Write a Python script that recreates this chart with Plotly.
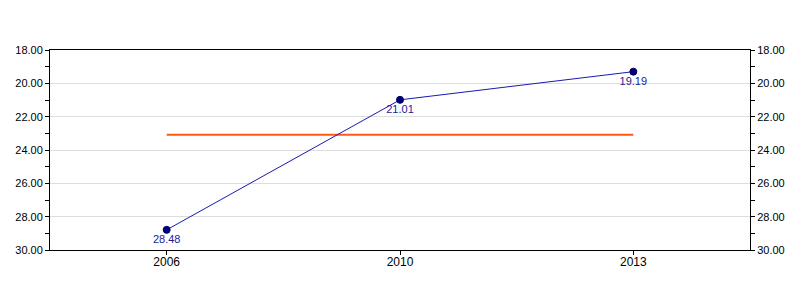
import plotly.graph_objects as go

years = ["2006", "2010", "2013"]
values = [28.79, 20.99, 19.30]
value_labels = ["28.48", "21.01", "19.19"]
reference_value = 23.08
y_range = [30, 18]
y_ticks = [18, 20, 22, 24, 26, 28, 30]
y_tick_text = ["18.00", "20.00", "22.00", "24.00", "26.00", "28.00", "30.00"]

font = "Liberation Sans, Arial, sans-serif"

fig = go.Figure()
fig.add_trace(go.Scatter(
    x=years, y=[reference_value] * len(years), mode="lines",
    line=dict(color="#FF5A14", width=2), hoverinfo="skip", showlegend=False,
))
fig.add_trace(go.Scatter(
    x=years, y=values, mode="lines+markers+text",
    line=dict(color="#1A1AB0", width=1),
    marker=dict(color="#000080", size=7, line=dict(color="#000060", width=1)),
    text=value_labels, textposition="bottom center",
    textfont=dict(color="#1A1A99", size=11, family=font),
    showlegend=False,
))
# invisible trace for right axis
fig.add_trace(go.Scatter(x=years, y=values, yaxis="y2", mode="markers",
                         marker=dict(opacity=0), hoverinfo="skip", showlegend=False))

axis_common = dict(
    range=y_range, tickvals=y_ticks, ticktext=y_tick_text,
    ticks="outside", ticklen=4, tickcolor="black", tickwidth=1,
    showline=True, linecolor="black", linewidth=1,
    tickfont=dict(size=11, color="black", family=font),
    minor=dict(dtick=1, tick0=18, ticks="outside", ticklen=4, tickcolor="black", showgrid=False),
    zeroline=False,
)

fig.update_layout(
    width=800, height=300,
    margin=dict(l=50, r=50, t=50, b=50),
    paper_bgcolor="white", plot_bgcolor="white",
    font=dict(family=font),
    xaxis=dict(
        type="category", range=[-0.5, 2.5],
        ticks="outside", ticklen=4, tickcolor="black",
        showline=True, linecolor="black", linewidth=1, mirror=True,
        showgrid=False, tickfont=dict(size=12, color="black", family=font),
        ticklabelstandoff=-3,
    ),
    yaxis=dict(**axis_common, side="left", showgrid=True, gridcolor="#DDDDDD", gridwidth=1),
    yaxis2=dict(**axis_common, side="right", overlaying="y", showgrid=False),
)

fig.write_html("out.html")
